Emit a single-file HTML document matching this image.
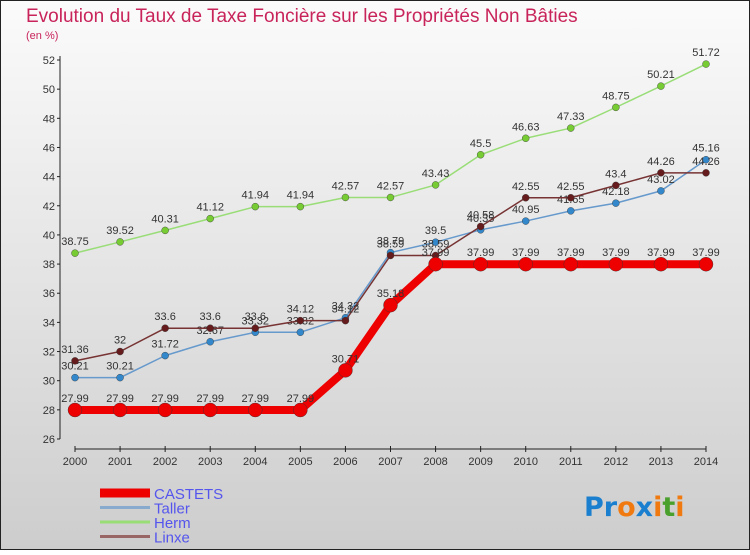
<!DOCTYPE html>
<html><head><meta charset="utf-8"><style>
html,body{margin:0;padding:0;}
body{width:750px;height:550px;overflow:hidden;font-family:"Liberation Sans",sans-serif;}
</style></head><body>
<svg id="chart" width="750" height="550" xmlns="http://www.w3.org/2000/svg">
<defs><linearGradient id="bg" x1="0" y1="0" x2="0" y2="1"><stop offset="0" stop-color="#fbfbfb"/><stop offset="1" stop-color="#cdcdcd"/></linearGradient></defs>
<rect x="0.5" y="0.5" width="749" height="549" fill="url(#bg)" stroke="#222"/>
<text x="26" y="22" font-size="19" fill="#c8245a">Evolution du Taux de Taxe Foncière sur les Propriétés Non Bâties</text>
<text x="26" y="39" font-size="11" fill="#c8245a">(en %)</text>
<g id="axes"></g><g id="series"></g><g id="legend"></g>
<text x="584" y="516" font-size="27" font-weight="bold" font-family="'DejaVu Sans',sans-serif"><tspan fill="#1a7fcf">Pr</tspan><tspan fill="#f07a10">o</tspan><tspan fill="#1a7fcf">x</tspan><tspan fill="#f07a10">i</tspan><tspan fill="#4aa02c">t</tspan><tspan fill="#f07a10">i</tspan></text>
</svg>
<script>
const years=[2000,2001,2002,2003,2004,2005,2006,2007,2008,2009,2010,2011,2012,2013,2014];
const yTicks=[26,28,30,32,34,36,38,40,42,44,46,48,50,52];
const castets=[27.99,27.99,27.99,27.99,27.99,27.99,30.71,35.18,37.99,37.99,37.99,37.99,37.99,37.99,37.99];
const taller=[30.21,30.21,31.72,32.67,33.32,33.32,34.32,38.79,39.5,40.35,40.95,41.65,42.18,43.02,45.16];
const herm=[38.75,39.52,40.31,41.12,41.94,41.94,42.57,42.57,43.43,45.5,46.63,47.33,48.75,50.21,51.72];
const linxe=[31.36,32,33.6,33.6,33.6,34.12,34.12,38.59,38.59,40.58,42.55,42.55,43.4,44.26,44.26];
const NS="http://www.w3.org/2000/svg";
const x=i=>75+i*(706-75)/(years.length-1);
const y=v=>439-(v-26)*(439-60)/26;
function mk(tag,attrs,parent,txt){const e=document.createElementNS(NS,tag);for(const k in attrs)e.setAttribute(k,attrs[k]);if(txt!==undefined)e.textContent=txt;parent.appendChild(e);return e;}
const ax=document.getElementById('axes');
const ya=mk('line',{x1:60,y1:56,x2:60,y2:439,stroke:'#222'},ax);


yTicks.forEach(t=>{
 const l=mk('line',{x1:57,x2:60,y1:y(t),y2:y(t),stroke:'#222'},ax);
 
 
 const tx=mk('text',{x:55,y:y(t)+4,'font-size':11,'text-anchor':'end',fill:'#333'},ax,t);
 
 
});
const xa=mk('line',{x1:75,y1:449,x2:706,y2:449,stroke:'#222'},ax);


years.forEach((yr,i)=>{
 const l=mk('line',{x1:x(i),x2:x(i),y1:446,y2:452,stroke:'#222'},ax);
 
 
 const tx=mk('text',{x:x(i),y:465,'font-size':11,'text-anchor':'middle',fill:'#333'},ax,yr);
 
 
});
const sg=document.getElementById('series');
function series(name,vals,color,w,r,dot){
 const g=mk('g',{},sg);
 
 
 const p=mk('polyline',{points:vals.map((v,i)=>x(i)+','+y(v)).join(' '),fill:'none',stroke:color,'stroke-width':w,'stroke-linejoin':'round'},g);
 
 
 vals.forEach((v,i)=>{
  const c=mk('circle',{cx:x(i),cy:y(v),r:r,fill:dot,stroke:'#333','stroke-width':0.4},g);
  
  
  const t=mk('text',{x:x(i),y:y(v)-8,'font-size':11,'text-anchor':'middle',fill:'#333'},g,v);
  
  
 });
}
series('herm',herm,'#99dd77',1.5,3.5,'#77cc33');
series('taller',taller,'#6699cc',1.5,3.5,'#3388cc');
series('linxe',linxe,'#773333',1.5,3.5,'#661c1c');
series('castets',castets,'#ee0000',8,7,'#ee0000');
const lg=document.getElementById('legend');
[['CASTETS','#ee0000',9],['Taller','#88aacc',3],['Herm','#99dd77',3],['Linxe','#996666',3]].forEach((e,i)=>{
 const yy=493+i*14.5;
 const l=mk('line',{x1:100,x2:150,y1:yy,y2:yy,stroke:e[1],'stroke-width':e[2]},lg);
 
 
 const t=mk('text',{x:154,y:yy+6,'font-size':15,fill:'#5555ee'},lg,e[0]);
 
 
});
</script>
</body></html>
